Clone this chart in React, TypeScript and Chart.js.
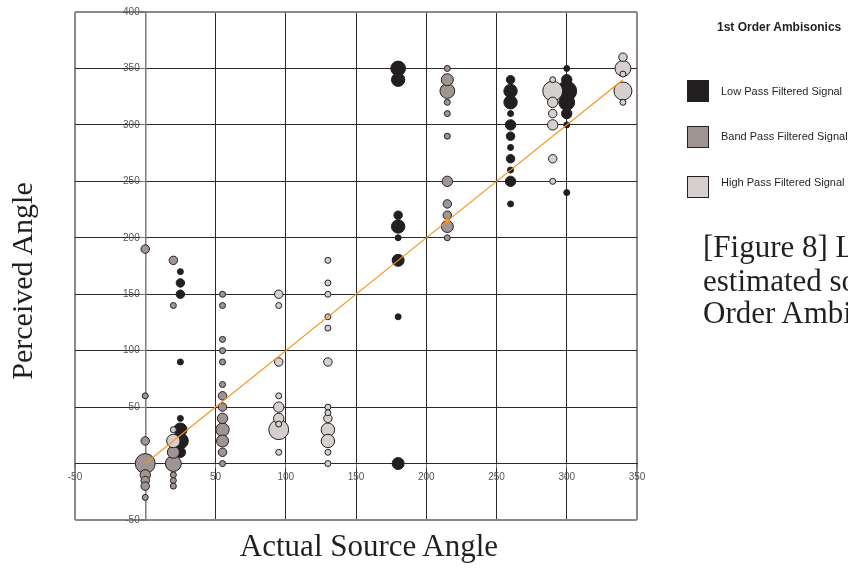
import { useEffect, useRef } from 'react';
import { Chart, registerables } from 'chart.js';

Chart.register(...registerables);

// Axis ranges and tick step (degrees)
const xRange = [-50, 350];
const yRange = [-50, 400];
const tickStep = 50;

// [actual source angle, perceived angle, number of responses]
const lowPass: [number, number, number][] = [
  [25, 170, 1], [25, 160, 2], [25, 150, 2], [25, 90, 1], [25, 40, 1], [25, 30, 5], [25, 20, 7], [25, 10, 3],
  [180, 350, 6], [180, 340, 5], [180, 220, 2], [180, 210, 5], [180, 200, 1], [180, 180, 4], [180, 130, 1], [180, 0, 4],
  [260, 340, 2], [260, 330, 5], [260, 320, 5], [260, 310, 1], [260, 300, 3], [260, 290, 2], [260, 280, 1],
  [260, 270, 2], [260, 260, 1], [260, 250, 3], [260, 230, 1],
  [300, 350, 1], [300, 340, 3], [300, 330, 11], [300, 320, 7], [300, 310, 3], [300, 300, 1], [300, 240, 1],
];

const bandPass: [number, number, number][] = [
  [0, 190, 2], [0, 60, 1], [0, 20, 2], [0, 0, 11], [0, -10, 3], [0, -15, 2], [0, -20, 2], [0, -30, 1],
  [20, 180, 2], [20, 140, 1], [20, 10, 4], [20, 0, 7], [20, -10, 1], [20, -15, 1], [20, -20, 1],
  [55, 150, 1], [55, 140, 1], [55, 110, 1], [55, 100, 1], [55, 90, 1], [55, 70, 1], [55, 60, 2], [55, 50, 2],
  [55, 40, 3], [55, 30, 5], [55, 20, 4], [55, 10, 2], [55, 0, 1],
  [215, 350, 1], [215, 340, 4], [215, 330, 6], [215, 320, 1], [215, 310, 1], [215, 290, 1], [215, 250, 3],
  [215, 230, 2], [215, 220, 2], [215, 210, 4], [215, 200, 1],
];

const highPass: [number, number, number][] = [
  [20, 30, 1], [20, 20, 5],
  [95, 150, 2], [95, 140, 1], [95, 90, 2], [95, 60, 1], [95, 50, 3], [95, 40, 3], [95, 35, 1], [95, 30, 11], [95, 10, 1],
  [130, 180, 1], [130, 160, 1], [130, 150, 1], [130, 130, 1], [130, 120, 1], [130, 90, 2], [130, 50, 1], [130, 45, 1],
  [130, 40, 2], [130, 30, 5], [130, 20, 5], [130, 10, 1], [130, 0, 1],
  [290, 340, 1], [290, 330, 11], [290, 320, 3], [290, 310, 2], [290, 300, 3], [290, 270, 2], [290, 250, 1],
  [340, 360, 2], [340, 350, 7], [340, 345, 1], [340, 330, 9], [340, 320, 1],
];

// ideal response (perceived = actual)
const idealLine: [number, number][] = [[0, 0], [215, 215], [340, 340]];
const idealMarker = [false, true, false];

const seriesLabels = ['Low Pass Filtered Signal', 'Band Pass Filtered Signal', 'High Pass Filtered Signal'];
const legendTitle = '1st Order Ambisonics';
const xTitle = 'Actual Source Angle';
const yTitle = 'Perceived Angle';
const captionLines = ['[Figure 8] L', 'estimated so', 'Order Ambi'];

const COLORS = { low: '#231f20', band: '#a09593', high: '#d5cfcd', edge: '#231f20', line: '#f7941d' };
const GRID = '#2a2a2a';
const FRAME = '#8f8789';

const bubbleRadius = (n: number) => 3 * Math.sqrt(n);
const toBubbles = (pts: [number, number, number][]) =>
  pts.map(([x, y, n]) => ({ x, y, r: bubbleRadius(n) })).sort((a, b) => b.r - a.r);

export default function App() {
  const ref = useRef<HTMLCanvasElement>(null);

  useEffect(() => {
    const canvas = ref.current;
    if (!canvas) return;
    const bubbleStyle = (fill: string) => ({
      backgroundColor: fill,
      borderColor: COLORS.edge,
      borderWidth: 1,
      hoverRadius: 0,
    });
    const chart = new Chart(canvas, {
      type: 'bubble',
      data: {
        datasets: [
          {
            type: 'line',
            label: 'Ideal',
            data: idealLine.map(([x, y]) => ({ x, y })),
            borderColor: COLORS.line,
            borderWidth: 1.2,
            pointRadius: idealMarker.map((m) => (m ? 2.5 : 0)),
            pointBackgroundColor: COLORS.line,
            pointBorderWidth: 0,
            fill: false,
            tension: 0,
            order: 0,
          } as any,
          { label: seriesLabels[2], data: toBubbles(highPass), ...bubbleStyle(COLORS.high), order: 1 },
          { label: seriesLabels[1], data: toBubbles(bandPass), ...bubbleStyle(COLORS.band), order: 2 },
          { label: seriesLabels[0], data: toBubbles(lowPass), ...bubbleStyle(COLORS.low), order: 3 },
        ],
      },
      options: {
        animation: false,
        responsive: false,
        events: [],
        layout: { padding: { left: 75, top: 12, right: 211, bottom: 48 } },
        plugins: { legend: { display: false }, tooltip: { enabled: false } },
        scales: {
          x: {
            type: 'linear',
            min: xRange[0],
            max: xRange[1],
            position: { y: 0 } as any,
            afterFit: (s: any) => { s.height = 0; },
            ticks: {
              stepSize: tickStep,
              padding: 4,
              color: '#555',
              font: { family: 'Liberation Sans, Arial, sans-serif', size: 10 },
              callback: (v: any) => (Number(v) === 0 ? '' : String(v)),
            },
            grid: {
              color: (c: any) => (c.tick && (c.tick.value === xRange[0] || c.tick.value === xRange[1]) ? FRAME : GRID),
              lineWidth: (c: any) => (c.tick && (c.tick.value === xRange[0] || c.tick.value === xRange[1]) ? 2 : 1),
              tickColor: '#777',
              tickLength: 4,
            },
            border: { color: GRID, width: 1 },
          },
          y: {
            type: 'linear',
            min: yRange[0],
            max: yRange[1],
            position: { x: 0 } as any,
            afterFit: (s: any) => { s.width = 0; },
            ticks: {
              stepSize: tickStep,
              padding: 0,
              color: '#555',
              font: { family: 'Liberation Sans, Arial, sans-serif', size: 10 },
              callback: (v: any) => (Number(v) === 0 ? '' : String(v) + '  '),
            },
            grid: {
              color: (c: any) => (c.tick && (c.tick.value === yRange[0] || c.tick.value === yRange[1]) ? FRAME : GRID),
              lineWidth: (c: any) => (c.tick && (c.tick.value === yRange[0] || c.tick.value === yRange[1]) ? 2 : 1),
              tickColor: '#777',
              tickLength: 5,
            },
            border: { color: '#7d7d7d', width: 1.5 },
          },
        },
      },
    } as any);
    return () => chart.destroy();
  }, []);

  const serif = '"Liberation Serif", "Times New Roman", serif';
  const sans = '"Liberation Sans", Arial, sans-serif';
  const squareTops = [80, 126, 176];
  const labelCenters = [91, 136, 182];
  const fills = [COLORS.low, COLORS.band, COLORS.high];

  return (
    <div style={{ position: 'fixed', left: 0, top: 0, width: 848, height: 568, overflow: 'hidden', background: '#fff', color: '#231f20' }}>
      <canvas ref={ref} width={848} height={568} style={{ position: 'absolute', left: 0, top: 0, width: 848, height: 568 }} />
      <div style={{ position: 'absolute', left: 22 - 150, top: 281 - 15, width: 300, height: 30, lineHeight: '30px', fontFamily: serif, fontSize: 30, textAlign: 'center', transform: 'rotate(-90deg)', whiteSpace: 'nowrap' }}>
        {yTitle}
      </div>
      <div style={{ position: 'absolute', left: 369 - 200, top: 530, width: 400, height: 31, lineHeight: '31px', fontFamily: serif, fontSize: 31, textAlign: 'center', whiteSpace: 'nowrap' }}>
        {xTitle}
      </div>
      <div style={{ position: 'absolute', left: 717, top: 27 - 8, height: 16, lineHeight: '16px', fontFamily: sans, fontSize: 12, fontWeight: 'bold', whiteSpace: 'nowrap' }}>
        {legendTitle}
      </div>
      {seriesLabels.map((lab, i) => (
        <div key={lab}>
          <div style={{ position: 'absolute', left: 687, top: squareTops[i], width: 20, height: 20, background: fills[i], border: '1px solid #231f20' }} />
          <div style={{ position: 'absolute', left: 721, top: labelCenters[i] - 7, height: 14, lineHeight: '14px', fontFamily: sans, fontSize: 11, whiteSpace: 'nowrap' }}>
            {lab}
          </div>
        </div>
      ))}
      {captionLines.map((t, i) => (
        <div key={t} style={{ position: 'absolute', left: 703, top: [231, 265, 297][i], height: 31, lineHeight: '31px', fontFamily: serif, fontSize: 31, whiteSpace: 'nowrap' }}>
          {t}
        </div>
      ))}
    </div>
  );
}
